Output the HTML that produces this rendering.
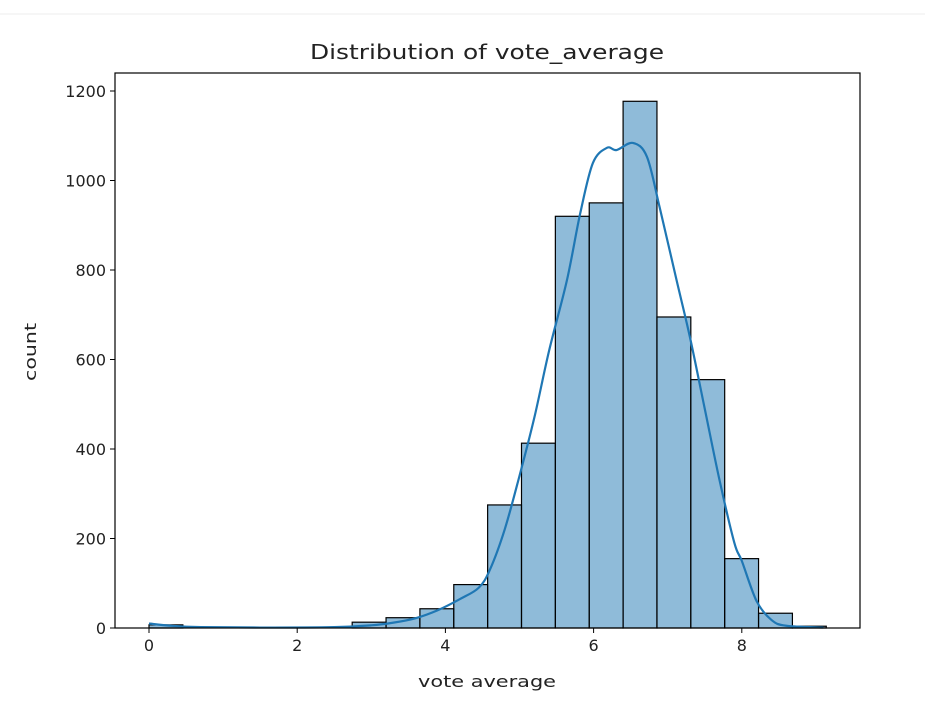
<!DOCTYPE html>
<html><head><meta charset="utf-8"><style>
html,body{margin:0;padding:0;background:#fff;}
svg{display:block;font-family:"DejaVu Sans","Liberation Sans",sans-serif;}
</style></head><body>
<svg id="chart" width="925" height="707">
<line x1="0" y1="14" x2="925" y2="14" stroke="#eeeeee" stroke-width="1"/>
<text x="487" y="59" text-anchor="middle" font-size="20" textLength="354" lengthAdjust="spacingAndGlyphs" fill="#222">Distribution of vote_average</text>
<text x="487" y="687" text-anchor="middle" font-size="16" textLength="138" lengthAdjust="spacingAndGlyphs" fill="#222">vote average</text>
<text transform="translate(36,352) rotate(-90)" text-anchor="middle" font-size="16" textLength="58" lengthAdjust="spacingAndGlyphs" fill="#222">count</text>
<g id="bars"></g><path id="kde" fill="none" stroke="#1f77b4" stroke-width="2.2"/>
<g id="axes"></g>
</svg>
<script>
const binStart = 0, binWidth = 0.457;
const counts = [7,0,0,0,0,0,13,23,43,97,275,413,920,950,1177,695,555,155,33,4];
const kdeX = [0,0.3,0.7,1.5,2.5,3.0,3.3,3.6,3.9,4.2,4.45,4.6,4.8,5.0,5.2,5.4,5.64,5.82,5.99,6.18,6.31,6.53,6.72,6.89,7.12,7.3,7.5,7.7,7.9,8.0,8.2,8.4,8.6,9.1];
const kdeY = [10,5,2,1,2,6,12,22,40,65,90,130,220,340,470,620,777,927,1039,1073,1068,1084,1053,941,777,650,490,330,190,150,60,18,5,1];
const xTicks = [0,2,4,6,8];
const yTicks = [0,200,400,600,800,1000,1200];
const L=115,R=860,T=73,B=628;
const xs = v => 149 + v*74.1;
const ys = v => 628 - v*0.4475;
const NS="http://www.w3.org/2000/svg";
const bars=document.getElementById('bars'), axes=document.getElementById('axes');
counts.forEach((c,i)=>{
  if(c<=0) return;
  const r=document.createElementNS(NS,'rect');
  const x0=xs(binStart+i*binWidth), x1=xs(binStart+(i+1)*binWidth);
  r.setAttribute('x',x0);r.setAttribute('width',x1-x0);
  r.setAttribute('y',ys(c));r.setAttribute('height',ys(0)-ys(c));
  r.setAttribute('fill','rgba(31,119,180,0.5)');r.setAttribute('stroke','#000');r.setAttribute('stroke-width','1.2');
  
  
  bars.appendChild(r);
});
const P=kdeX.map((x,i)=>[xs(x),ys(kdeY[i])]);
let d=`M${P[0][0]},${P[0][1]}`;
for(let i=0;i<P.length-1;i++){
  const p0=P[Math.max(0,i-1)],p1=P[i],p2=P[i+1],p3=P[Math.min(P.length-1,i+2)];
  const c1=[p1[0]+(p2[0]-p0[0])/6,p1[1]+(p2[1]-p0[1])/6];
  const c2=[p2[0]-(p3[0]-p1[0])/6,p2[1]-(p3[1]-p1[1])/6];
  d+=` C${c1[0]},${c1[1]} ${c2[0]},${c2[1]} ${p2[0]},${p2[1]}`;
}
document.getElementById('kde').setAttribute('d',d);
const frame=document.createElementNS(NS,'rect');
frame.setAttribute('x',L);frame.setAttribute('y',T);frame.setAttribute('width',R-L);frame.setAttribute('height',B-T);
frame.setAttribute('fill','none');frame.setAttribute('stroke','#000');frame.setAttribute('stroke-width','1.2');


axes.appendChild(frame);
xTicks.forEach(t=>{
  const l=document.createElementNS(NS,'line');
  l.setAttribute('x1',xs(t));l.setAttribute('x2',xs(t));l.setAttribute('y1',B);l.setAttribute('y2',B+5);l.setAttribute('stroke','#000');
  
  
  axes.appendChild(l);
  const tx=document.createElementNS(NS,'text');
  tx.setAttribute('x',xs(t));tx.setAttribute('y',B+23);tx.setAttribute('text-anchor','middle');tx.setAttribute('font-size','16');tx.setAttribute('fill','#222');
  tx.textContent=t;
  
  
  axes.appendChild(tx);
});
yTicks.forEach(t=>{
  const l=document.createElementNS(NS,'line');
  l.setAttribute('x1',L-5);l.setAttribute('x2',L);l.setAttribute('y1',ys(t));l.setAttribute('y2',ys(t));l.setAttribute('stroke','#000');
  
  
  axes.appendChild(l);
  const tx=document.createElementNS(NS,'text');
  tx.setAttribute('x',L-9);tx.setAttribute('y',ys(t)+6);tx.setAttribute('text-anchor','end');tx.setAttribute('font-size','16');tx.setAttribute('fill','#222');
  tx.textContent=t;
  
  
  axes.appendChild(tx);
});
</script>
</body></html>
